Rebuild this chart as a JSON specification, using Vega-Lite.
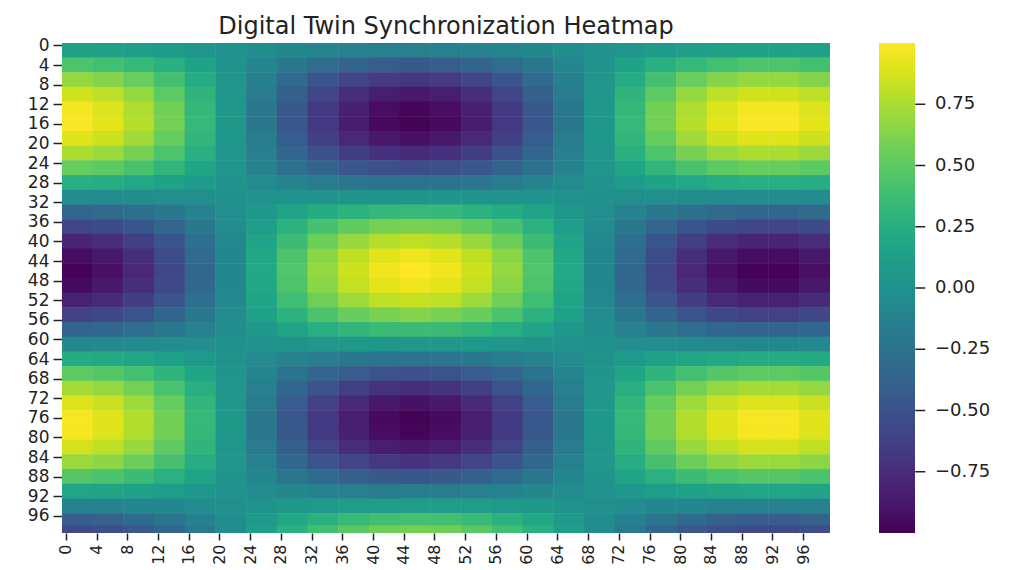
{"$schema":"https://vega.github.io/schema/vega-lite/v6.json","autosize":{"type":"none"},"padding":{"left":62,"top":43,"right":186,"bottom":37},"width":768,"height":490,"background":"white","title":{"text":"Digital Twin Synchronization Heatmap","font":"DejaVu Sans","fontSize":24,"fontWeight":"normal","color":"#222","anchor":"middle","offset":-3},"config":{"view":{"stroke":null},"axis":{"labelOverlap":false}},"resolve":{"scale":{"y":"independent"}},"layer":[{"data":{"values":[
{"x":2,"y":1.5,"v":0.15},{"x":6,"y":1.5,"v":0.14},{"x":10,"y":1.5,"v":0.12},{"x":14,"y":1.5,"v":0.09},{"x":18,"y":1.5,"v":0.05},{"x":22,"y":1.5,"v":0.01},{"x":26,"y":1.5,"v":-0.03},{"x":30,"y":1.5,"v":-0.07},{"x":34,"y":1.5,"v":-0.1},{"x":38,"y":1.5,"v":-0.13},{"x":42,"y":1.5,"v":-0.14},{"x":46,"y":1.5,"v":-0.15},{"x":50,"y":1.5,"v":-0.14},{"x":54,"y":1.5,"v":-0.13},{"x":58,"y":1.5,"v":-0.1},{"x":62,"y":1.5,"v":-0.07},{"x":66,"y":1.5,"v":-0.03},{"x":70,"y":1.5,"v":0.01},{"x":74,"y":1.5,"v":0.05},{"x":78,"y":1.5,"v":0.09},{"x":82,"y":1.5,"v":0.12},{"x":86,"y":1.5,"v":0.14},{"x":90,"y":1.5,"v":0.15},{"x":94,"y":1.5,"v":0.15},{"x":98,"y":1.5,"v":0.14},
{"x":2,"y":4.5,"v":0.44},{"x":6,"y":4.5,"v":0.4},{"x":10,"y":4.5,"v":0.34},{"x":14,"y":4.5,"v":0.26},{"x":18,"y":4.5,"v":0.15},{"x":22,"y":4.5,"v":0.03},{"x":26,"y":4.5,"v":-0.09},{"x":30,"y":4.5,"v":-0.2},{"x":34,"y":4.5,"v":-0.3},{"x":38,"y":4.5,"v":-0.37},{"x":42,"y":4.5,"v":-0.42},{"x":46,"y":4.5,"v":-0.44},{"x":50,"y":4.5,"v":-0.42},{"x":54,"y":4.5,"v":-0.37},{"x":58,"y":4.5,"v":-0.3},{"x":62,"y":4.5,"v":-0.2},{"x":66,"y":4.5,"v":-0.09},{"x":70,"y":4.5,"v":0.03},{"x":74,"y":4.5,"v":0.15},{"x":78,"y":4.5,"v":0.26},{"x":82,"y":4.5,"v":0.34},{"x":86,"y":4.5,"v":0.4},{"x":90,"y":4.5,"v":0.44},{"x":94,"y":4.5,"v":0.44},{"x":98,"y":4.5,"v":0.4},
{"x":2,"y":7.5,"v":0.68},{"x":6,"y":7.5,"v":0.63},{"x":10,"y":7.5,"v":0.54},{"x":14,"y":7.5,"v":0.4},{"x":18,"y":7.5,"v":0.23},{"x":22,"y":7.5,"v":0.05},{"x":26,"y":7.5,"v":-0.14},{"x":30,"y":7.5,"v":-0.32},{"x":34,"y":7.5,"v":-0.47},{"x":38,"y":7.5,"v":-0.59},{"x":42,"y":7.5,"v":-0.66},{"x":46,"y":7.5,"v":-0.69},{"x":50,"y":7.5,"v":-0.66},{"x":54,"y":7.5,"v":-0.59},{"x":58,"y":7.5,"v":-0.47},{"x":62,"y":7.5,"v":-0.32},{"x":66,"y":7.5,"v":-0.14},{"x":70,"y":7.5,"v":0.05},{"x":74,"y":7.5,"v":0.23},{"x":78,"y":7.5,"v":0.4},{"x":82,"y":7.5,"v":0.54},{"x":86,"y":7.5,"v":0.63},{"x":90,"y":7.5,"v":0.68},{"x":94,"y":7.5,"v":0.68},{"x":98,"y":7.5,"v":0.63},
{"x":2,"y":10.5,"v":0.86},{"x":6,"y":10.5,"v":0.8},{"x":10,"y":10.5,"v":0.68},{"x":14,"y":10.5,"v":0.5},{"x":18,"y":10.5,"v":0.3},{"x":22,"y":10.5,"v":0.06},{"x":26,"y":10.5,"v":-0.17},{"x":30,"y":10.5,"v":-0.4},{"x":34,"y":10.5,"v":-0.59},{"x":38,"y":10.5,"v":-0.74},{"x":42,"y":10.5,"v":-0.84},{"x":46,"y":10.5,"v":-0.87},{"x":50,"y":10.5,"v":-0.84},{"x":54,"y":10.5,"v":-0.74},{"x":58,"y":10.5,"v":-0.59},{"x":62,"y":10.5,"v":-0.4},{"x":66,"y":10.5,"v":-0.17},{"x":70,"y":10.5,"v":0.06},{"x":74,"y":10.5,"v":0.3},{"x":78,"y":10.5,"v":0.5},{"x":82,"y":10.5,"v":0.68},{"x":86,"y":10.5,"v":0.8},{"x":90,"y":10.5,"v":0.86},{"x":94,"y":10.5,"v":0.86},{"x":98,"y":10.5,"v":0.8},
{"x":2,"y":13.5,"v":0.97},{"x":6,"y":13.5,"v":0.9},{"x":10,"y":13.5,"v":0.76},{"x":14,"y":13.5,"v":0.57},{"x":18,"y":13.5,"v":0.33},{"x":22,"y":13.5,"v":0.07},{"x":26,"y":13.5,"v":-0.2},{"x":30,"y":13.5,"v":-0.45},{"x":34,"y":13.5,"v":-0.67},{"x":38,"y":13.5,"v":-0.83},{"x":42,"y":13.5,"v":-0.94},{"x":46,"y":13.5,"v":-0.98},{"x":50,"y":13.5,"v":-0.94},{"x":54,"y":13.5,"v":-0.83},{"x":58,"y":13.5,"v":-0.67},{"x":62,"y":13.5,"v":-0.45},{"x":66,"y":13.5,"v":-0.2},{"x":70,"y":13.5,"v":0.07},{"x":74,"y":13.5,"v":0.33},{"x":78,"y":13.5,"v":0.57},{"x":82,"y":13.5,"v":0.76},{"x":86,"y":13.5,"v":0.9},{"x":90,"y":13.5,"v":0.97},{"x":94,"y":13.5,"v":0.97},{"x":98,"y":13.5,"v":0.9},
{"x":2,"y":16.5,"v":0.99},{"x":6,"y":16.5,"v":0.92},{"x":10,"y":16.5,"v":0.78},{"x":14,"y":16.5,"v":0.58},{"x":18,"y":16.5,"v":0.34},{"x":22,"y":16.5,"v":0.07},{"x":26,"y":16.5,"v":-0.2},{"x":30,"y":16.5,"v":-0.46},{"x":34,"y":16.5,"v":-0.68},{"x":38,"y":16.5,"v":-0.85},{"x":42,"y":16.5,"v":-0.96},{"x":46,"y":16.5,"v":-0.99},{"x":50,"y":16.5,"v":-0.96},{"x":54,"y":16.5,"v":-0.85},{"x":58,"y":16.5,"v":-0.68},{"x":62,"y":16.5,"v":-0.46},{"x":66,"y":16.5,"v":-0.2},{"x":70,"y":16.5,"v":0.07},{"x":74,"y":16.5,"v":0.34},{"x":78,"y":16.5,"v":0.58},{"x":82,"y":16.5,"v":0.78},{"x":86,"y":16.5,"v":0.92},{"x":90,"y":16.5,"v":0.99},{"x":94,"y":16.5,"v":0.99},{"x":98,"y":16.5,"v":0.92},
{"x":2,"y":19.5,"v":0.91},{"x":6,"y":19.5,"v":0.85},{"x":10,"y":19.5,"v":0.72},{"x":14,"y":19.5,"v":0.53},{"x":18,"y":19.5,"v":0.31},{"x":22,"y":19.5,"v":0.06},{"x":26,"y":19.5,"v":-0.18},{"x":30,"y":19.5,"v":-0.42},{"x":34,"y":19.5,"v":-0.63},{"x":38,"y":19.5,"v":-0.78},{"x":42,"y":19.5,"v":-0.88},{"x":46,"y":19.5,"v":-0.92},{"x":50,"y":19.5,"v":-0.88},{"x":54,"y":19.5,"v":-0.78},{"x":58,"y":19.5,"v":-0.63},{"x":62,"y":19.5,"v":-0.42},{"x":66,"y":19.5,"v":-0.18},{"x":70,"y":19.5,"v":0.06},{"x":74,"y":19.5,"v":0.31},{"x":78,"y":19.5,"v":0.53},{"x":82,"y":19.5,"v":0.72},{"x":86,"y":19.5,"v":0.85},{"x":90,"y":19.5,"v":0.91},{"x":94,"y":19.5,"v":0.91},{"x":98,"y":19.5,"v":0.85},
{"x":2,"y":22.5,"v":0.75},{"x":6,"y":22.5,"v":0.7},{"x":10,"y":22.5,"v":0.59},{"x":14,"y":22.5,"v":0.44},{"x":18,"y":22.5,"v":0.26},{"x":22,"y":22.5,"v":0.05},{"x":26,"y":22.5,"v":-0.15},{"x":30,"y":22.5,"v":-0.35},{"x":34,"y":22.5,"v":-0.52},{"x":38,"y":22.5,"v":-0.65},{"x":42,"y":22.5,"v":-0.73},{"x":46,"y":22.5,"v":-0.76},{"x":50,"y":22.5,"v":-0.73},{"x":54,"y":22.5,"v":-0.65},{"x":58,"y":22.5,"v":-0.52},{"x":62,"y":22.5,"v":-0.35},{"x":66,"y":22.5,"v":-0.15},{"x":70,"y":22.5,"v":0.05},{"x":74,"y":22.5,"v":0.26},{"x":78,"y":22.5,"v":0.44},{"x":82,"y":22.5,"v":0.59},{"x":86,"y":22.5,"v":0.7},{"x":90,"y":22.5,"v":0.75},{"x":94,"y":22.5,"v":0.75},{"x":98,"y":22.5,"v":0.7},
{"x":2,"y":25.5,"v":0.53},{"x":6,"y":25.5,"v":0.5},{"x":10,"y":25.5,"v":0.42},{"x":14,"y":25.5,"v":0.31},{"x":18,"y":25.5,"v":0.18},{"x":22,"y":25.5,"v":0.04},{"x":26,"y":25.5,"v":-0.11},{"x":30,"y":25.5,"v":-0.25},{"x":34,"y":25.5,"v":-0.37},{"x":38,"y":25.5,"v":-0.46},{"x":42,"y":25.5,"v":-0.52},{"x":46,"y":25.5,"v":-0.54},{"x":50,"y":25.5,"v":-0.52},{"x":54,"y":25.5,"v":-0.46},{"x":58,"y":25.5,"v":-0.37},{"x":62,"y":25.5,"v":-0.25},{"x":66,"y":25.5,"v":-0.11},{"x":70,"y":25.5,"v":0.04},{"x":74,"y":25.5,"v":0.18},{"x":78,"y":25.5,"v":0.31},{"x":82,"y":25.5,"v":0.42},{"x":86,"y":25.5,"v":0.5},{"x":90,"y":25.5,"v":0.53},{"x":94,"y":25.5,"v":0.53},{"x":98,"y":25.5,"v":0.5},
{"x":2,"y":28.5,"v":0.26},{"x":6,"y":28.5,"v":0.24},{"x":10,"y":28.5,"v":0.2},{"x":14,"y":28.5,"v":0.15},{"x":18,"y":28.5,"v":0.09},{"x":22,"y":28.5,"v":0.02},{"x":26,"y":28.5,"v":-0.05},{"x":30,"y":28.5,"v":-0.12},{"x":34,"y":28.5,"v":-0.18},{"x":38,"y":28.5,"v":-0.22},{"x":42,"y":28.5,"v":-0.25},{"x":46,"y":28.5,"v":-0.26},{"x":50,"y":28.5,"v":-0.25},{"x":54,"y":28.5,"v":-0.22},{"x":58,"y":28.5,"v":-0.18},{"x":62,"y":28.5,"v":-0.12},{"x":66,"y":28.5,"v":-0.05},{"x":70,"y":28.5,"v":0.02},{"x":74,"y":28.5,"v":0.09},{"x":78,"y":28.5,"v":0.15},{"x":82,"y":28.5,"v":0.2},{"x":86,"y":28.5,"v":0.24},{"x":90,"y":28.5,"v":0.26},{"x":94,"y":28.5,"v":0.26},{"x":98,"y":28.5,"v":0.24},
{"x":2,"y":31.5,"v":-0.04},{"x":6,"y":31.5,"v":-0.04},{"x":10,"y":31.5,"v":-0.03},{"x":14,"y":31.5,"v":-0.02},{"x":18,"y":31.5,"v":-0.01},{"x":22,"y":31.5,"v":0},{"x":26,"y":31.5,"v":0.01},{"x":30,"y":31.5,"v":0.02},{"x":34,"y":31.5,"v":0.03},{"x":38,"y":31.5,"v":0.03},{"x":42,"y":31.5,"v":0.04},{"x":46,"y":31.5,"v":0.04},{"x":50,"y":31.5,"v":0.04},{"x":54,"y":31.5,"v":0.03},{"x":58,"y":31.5,"v":0.03},{"x":62,"y":31.5,"v":0.02},{"x":66,"y":31.5,"v":0.01},{"x":70,"y":31.5,"v":0},{"x":74,"y":31.5,"v":-0.01},{"x":78,"y":31.5,"v":-0.02},{"x":82,"y":31.5,"v":-0.03},{"x":86,"y":31.5,"v":-0.04},{"x":90,"y":31.5,"v":-0.04},{"x":94,"y":31.5,"v":-0.04},{"x":98,"y":31.5,"v":-0.04},
{"x":2,"y":34.5,"v":-0.34},{"x":6,"y":34.5,"v":-0.31},{"x":10,"y":34.5,"v":-0.27},{"x":14,"y":34.5,"v":-0.2},{"x":18,"y":34.5,"v":-0.12},{"x":22,"y":34.5,"v":-0.02},{"x":26,"y":34.5,"v":0.07},{"x":30,"y":34.5,"v":0.16},{"x":34,"y":34.5,"v":0.23},{"x":38,"y":34.5,"v":0.29},{"x":42,"y":34.5,"v":0.33},{"x":46,"y":34.5,"v":0.34},{"x":50,"y":34.5,"v":0.33},{"x":54,"y":34.5,"v":0.29},{"x":58,"y":34.5,"v":0.23},{"x":62,"y":34.5,"v":0.16},{"x":66,"y":34.5,"v":0.07},{"x":70,"y":34.5,"v":-0.02},{"x":74,"y":34.5,"v":-0.12},{"x":78,"y":34.5,"v":-0.2},{"x":82,"y":34.5,"v":-0.27},{"x":86,"y":34.5,"v":-0.31},{"x":90,"y":34.5,"v":-0.34},{"x":94,"y":34.5,"v":-0.34},{"x":98,"y":34.5,"v":-0.31},
{"x":2,"y":37.5,"v":-0.59},{"x":6,"y":37.5,"v":-0.55},{"x":10,"y":37.5,"v":-0.47},{"x":14,"y":37.5,"v":-0.35},{"x":18,"y":37.5,"v":-0.2},{"x":22,"y":37.5,"v":-0.04},{"x":26,"y":37.5,"v":0.12},{"x":30,"y":37.5,"v":0.28},{"x":34,"y":37.5,"v":0.41},{"x":38,"y":37.5,"v":0.51},{"x":42,"y":37.5,"v":0.58},{"x":46,"y":37.5,"v":0.6},{"x":50,"y":37.5,"v":0.58},{"x":54,"y":37.5,"v":0.51},{"x":58,"y":37.5,"v":0.41},{"x":62,"y":37.5,"v":0.28},{"x":66,"y":37.5,"v":0.12},{"x":70,"y":37.5,"v":-0.04},{"x":74,"y":37.5,"v":-0.2},{"x":78,"y":37.5,"v":-0.35},{"x":82,"y":37.5,"v":-0.47},{"x":86,"y":37.5,"v":-0.55},{"x":90,"y":37.5,"v":-0.59},{"x":94,"y":37.5,"v":-0.59},{"x":98,"y":37.5,"v":-0.55},
{"x":2,"y":40.5,"v":-0.8},{"x":6,"y":40.5,"v":-0.75},{"x":10,"y":40.5,"v":-0.63},{"x":14,"y":40.5,"v":-0.47},{"x":18,"y":40.5,"v":-0.28},{"x":22,"y":40.5,"v":-0.06},{"x":26,"y":40.5,"v":0.16},{"x":30,"y":40.5,"v":0.37},{"x":34,"y":40.5,"v":0.55},{"x":38,"y":40.5,"v":0.69},{"x":42,"y":40.5,"v":0.78},{"x":46,"y":40.5,"v":0.81},{"x":50,"y":40.5,"v":0.78},{"x":54,"y":40.5,"v":0.69},{"x":58,"y":40.5,"v":0.55},{"x":62,"y":40.5,"v":0.37},{"x":66,"y":40.5,"v":0.16},{"x":70,"y":40.5,"v":-0.06},{"x":74,"y":40.5,"v":-0.28},{"x":78,"y":40.5,"v":-0.47},{"x":82,"y":40.5,"v":-0.63},{"x":86,"y":40.5,"v":-0.75},{"x":90,"y":40.5,"v":-0.8},{"x":94,"y":40.5,"v":-0.8},{"x":98,"y":40.5,"v":-0.75},
{"x":2,"y":43.5,"v":-0.94},{"x":6,"y":43.5,"v":-0.87},{"x":10,"y":43.5,"v":-0.74},{"x":14,"y":43.5,"v":-0.55},{"x":18,"y":43.5,"v":-0.32},{"x":22,"y":43.5,"v":-0.07},{"x":26,"y":43.5,"v":0.19},{"x":30,"y":43.5,"v":0.44},{"x":34,"y":43.5,"v":0.65},{"x":38,"y":43.5,"v":0.81},{"x":42,"y":43.5,"v":0.91},{"x":46,"y":43.5,"v":0.95},{"x":50,"y":43.5,"v":0.91},{"x":54,"y":43.5,"v":0.81},{"x":58,"y":43.5,"v":0.65},{"x":62,"y":43.5,"v":0.44},{"x":66,"y":43.5,"v":0.19},{"x":70,"y":43.5,"v":-0.07},{"x":74,"y":43.5,"v":-0.32},{"x":78,"y":43.5,"v":-0.55},{"x":82,"y":43.5,"v":-0.74},{"x":86,"y":43.5,"v":-0.87},{"x":90,"y":43.5,"v":-0.94},{"x":94,"y":43.5,"v":-0.94},{"x":98,"y":43.5,"v":-0.87},
{"x":2,"y":46.5,"v":-0.99},{"x":6,"y":46.5,"v":-0.92},{"x":10,"y":46.5,"v":-0.78},{"x":14,"y":46.5,"v":-0.58},{"x":18,"y":46.5,"v":-0.34},{"x":22,"y":46.5,"v":-0.07},{"x":26,"y":46.5,"v":0.2},{"x":30,"y":46.5,"v":0.46},{"x":34,"y":46.5,"v":0.68},{"x":38,"y":46.5,"v":0.85},{"x":42,"y":46.5,"v":0.96},{"x":46,"y":46.5,"v":1},{"x":50,"y":46.5,"v":0.96},{"x":54,"y":46.5,"v":0.85},{"x":58,"y":46.5,"v":0.68},{"x":62,"y":46.5,"v":0.46},{"x":66,"y":46.5,"v":0.2},{"x":70,"y":46.5,"v":-0.07},{"x":74,"y":46.5,"v":-0.34},{"x":78,"y":46.5,"v":-0.58},{"x":82,"y":46.5,"v":-0.78},{"x":86,"y":46.5,"v":-0.92},{"x":90,"y":46.5,"v":-0.99},{"x":94,"y":46.5,"v":-0.99},{"x":98,"y":46.5,"v":-0.92},
{"x":2,"y":49.5,"v":-0.95},{"x":6,"y":49.5,"v":-0.88},{"x":10,"y":49.5,"v":-0.75},{"x":14,"y":49.5,"v":-0.56},{"x":18,"y":49.5,"v":-0.33},{"x":22,"y":49.5,"v":-0.07},{"x":26,"y":49.5,"v":0.19},{"x":30,"y":49.5,"v":0.44},{"x":34,"y":49.5,"v":0.65},{"x":38,"y":49.5,"v":0.82},{"x":42,"y":49.5,"v":0.92},{"x":46,"y":49.5,"v":0.96},{"x":50,"y":49.5,"v":0.92},{"x":54,"y":49.5,"v":0.82},{"x":58,"y":49.5,"v":0.65},{"x":62,"y":49.5,"v":0.44},{"x":66,"y":49.5,"v":0.19},{"x":70,"y":49.5,"v":-0.07},{"x":74,"y":49.5,"v":-0.33},{"x":78,"y":49.5,"v":-0.56},{"x":82,"y":49.5,"v":-0.75},{"x":86,"y":49.5,"v":-0.88},{"x":90,"y":49.5,"v":-0.95},{"x":94,"y":49.5,"v":-0.95},{"x":98,"y":49.5,"v":-0.88},
{"x":2,"y":52.5,"v":-0.82},{"x":6,"y":52.5,"v":-0.76},{"x":10,"y":52.5,"v":-0.65},{"x":14,"y":52.5,"v":-0.48},{"x":18,"y":52.5,"v":-0.28},{"x":22,"y":52.5,"v":-0.06},{"x":26,"y":52.5,"v":0.17},{"x":30,"y":52.5,"v":0.38},{"x":34,"y":52.5,"v":0.56},{"x":38,"y":52.5,"v":0.71},{"x":42,"y":52.5,"v":0.8},{"x":46,"y":52.5,"v":0.83},{"x":50,"y":52.5,"v":0.8},{"x":54,"y":52.5,"v":0.71},{"x":58,"y":52.5,"v":0.56},{"x":62,"y":52.5,"v":0.38},{"x":66,"y":52.5,"v":0.17},{"x":70,"y":52.5,"v":-0.06},{"x":74,"y":52.5,"v":-0.28},{"x":78,"y":52.5,"v":-0.48},{"x":82,"y":52.5,"v":-0.65},{"x":86,"y":52.5,"v":-0.76},{"x":90,"y":52.5,"v":-0.82},{"x":94,"y":52.5,"v":-0.82},{"x":98,"y":52.5,"v":-0.76},
{"x":2,"y":55.5,"v":-0.62},{"x":6,"y":55.5,"v":-0.58},{"x":10,"y":55.5,"v":-0.49},{"x":14,"y":55.5,"v":-0.37},{"x":18,"y":55.5,"v":-0.21},{"x":22,"y":55.5,"v":-0.04},{"x":26,"y":55.5,"v":0.13},{"x":30,"y":55.5,"v":0.29},{"x":34,"y":55.5,"v":0.43},{"x":38,"y":55.5,"v":0.54},{"x":42,"y":55.5,"v":0.6},{"x":46,"y":55.5,"v":0.63},{"x":50,"y":55.5,"v":0.6},{"x":54,"y":55.5,"v":0.54},{"x":58,"y":55.5,"v":0.43},{"x":62,"y":55.5,"v":0.29},{"x":66,"y":55.5,"v":0.13},{"x":70,"y":55.5,"v":-0.04},{"x":74,"y":55.5,"v":-0.21},{"x":78,"y":55.5,"v":-0.37},{"x":82,"y":55.5,"v":-0.49},{"x":86,"y":55.5,"v":-0.58},{"x":90,"y":55.5,"v":-0.62},{"x":94,"y":55.5,"v":-0.62},{"x":98,"y":55.5,"v":-0.58},
{"x":2,"y":58.5,"v":-0.37},{"x":6,"y":58.5,"v":-0.34},{"x":10,"y":58.5,"v":-0.29},{"x":14,"y":58.5,"v":-0.21},{"x":18,"y":58.5,"v":-0.13},{"x":22,"y":58.5,"v":-0.03},{"x":26,"y":58.5,"v":0.07},{"x":30,"y":58.5,"v":0.17},{"x":34,"y":58.5,"v":0.25},{"x":38,"y":58.5,"v":0.31},{"x":42,"y":58.5,"v":0.36},{"x":46,"y":58.5,"v":0.37},{"x":50,"y":58.5,"v":0.36},{"x":54,"y":58.5,"v":0.31},{"x":58,"y":58.5,"v":0.25},{"x":62,"y":58.5,"v":0.17},{"x":66,"y":58.5,"v":0.07},{"x":70,"y":58.5,"v":-0.03},{"x":74,"y":58.5,"v":-0.13},{"x":78,"y":58.5,"v":-0.21},{"x":82,"y":58.5,"v":-0.29},{"x":86,"y":58.5,"v":-0.34},{"x":90,"y":58.5,"v":-0.37},{"x":94,"y":58.5,"v":-0.37},{"x":98,"y":58.5,"v":-0.34},
{"x":2,"y":61.5,"v":-0.07},{"x":6,"y":61.5,"v":-0.06},{"x":10,"y":61.5,"v":-0.05},{"x":14,"y":61.5,"v":-0.04},{"x":18,"y":61.5,"v":-0.02},{"x":22,"y":61.5,"v":0},{"x":26,"y":61.5,"v":0.01},{"x":30,"y":61.5,"v":0.03},{"x":34,"y":61.5,"v":0.05},{"x":38,"y":61.5,"v":0.06},{"x":42,"y":61.5,"v":0.07},{"x":46,"y":61.5,"v":0.07},{"x":50,"y":61.5,"v":0.07},{"x":54,"y":61.5,"v":0.06},{"x":58,"y":61.5,"v":0.05},{"x":62,"y":61.5,"v":0.03},{"x":66,"y":61.5,"v":0.01},{"x":70,"y":61.5,"v":0},{"x":74,"y":61.5,"v":-0.02},{"x":78,"y":61.5,"v":-0.04},{"x":82,"y":61.5,"v":-0.05},{"x":86,"y":61.5,"v":-0.06},{"x":90,"y":61.5,"v":-0.07},{"x":94,"y":61.5,"v":-0.07},{"x":98,"y":61.5,"v":-0.06},
{"x":2,"y":64.5,"v":0.23},{"x":6,"y":64.5,"v":0.21},{"x":10,"y":64.5,"v":0.18},{"x":14,"y":64.5,"v":0.13},{"x":18,"y":64.5,"v":0.08},{"x":22,"y":64.5,"v":0.02},{"x":26,"y":64.5,"v":-0.05},{"x":30,"y":64.5,"v":-0.11},{"x":34,"y":64.5,"v":-0.16},{"x":38,"y":64.5,"v":-0.2},{"x":42,"y":64.5,"v":-0.22},{"x":46,"y":64.5,"v":-0.23},{"x":50,"y":64.5,"v":-0.22},{"x":54,"y":64.5,"v":-0.2},{"x":58,"y":64.5,"v":-0.16},{"x":62,"y":64.5,"v":-0.11},{"x":66,"y":64.5,"v":-0.05},{"x":70,"y":64.5,"v":0.02},{"x":74,"y":64.5,"v":0.08},{"x":78,"y":64.5,"v":0.13},{"x":82,"y":64.5,"v":0.18},{"x":86,"y":64.5,"v":0.21},{"x":90,"y":64.5,"v":0.23},{"x":94,"y":64.5,"v":0.23},{"x":98,"y":64.5,"v":0.21},
{"x":2,"y":67.5,"v":0.5},{"x":6,"y":67.5,"v":0.47},{"x":10,"y":67.5,"v":0.4},{"x":14,"y":67.5,"v":0.3},{"x":18,"y":67.5,"v":0.17},{"x":22,"y":67.5,"v":0.04},{"x":26,"y":67.5,"v":-0.1},{"x":30,"y":67.5,"v":-0.23},{"x":34,"y":67.5,"v":-0.35},{"x":38,"y":67.5,"v":-0.43},{"x":42,"y":67.5,"v":-0.49},{"x":46,"y":67.5,"v":-0.51},{"x":50,"y":67.5,"v":-0.49},{"x":54,"y":67.5,"v":-0.43},{"x":58,"y":67.5,"v":-0.35},{"x":62,"y":67.5,"v":-0.23},{"x":66,"y":67.5,"v":-0.1},{"x":70,"y":67.5,"v":0.04},{"x":74,"y":67.5,"v":0.17},{"x":78,"y":67.5,"v":0.3},{"x":82,"y":67.5,"v":0.4},{"x":86,"y":67.5,"v":0.47},{"x":90,"y":67.5,"v":0.5},{"x":94,"y":67.5,"v":0.5},{"x":98,"y":67.5,"v":0.47},
{"x":2,"y":70.5,"v":0.73},{"x":6,"y":70.5,"v":0.68},{"x":10,"y":70.5,"v":0.58},{"x":14,"y":70.5,"v":0.43},{"x":18,"y":70.5,"v":0.25},{"x":22,"y":70.5,"v":0.05},{"x":26,"y":70.5,"v":-0.15},{"x":30,"y":70.5,"v":-0.34},{"x":34,"y":70.5,"v":-0.5},{"x":38,"y":70.5,"v":-0.63},{"x":42,"y":70.5,"v":-0.71},{"x":46,"y":70.5,"v":-0.74},{"x":50,"y":70.5,"v":-0.71},{"x":54,"y":70.5,"v":-0.63},{"x":58,"y":70.5,"v":-0.5},{"x":62,"y":70.5,"v":-0.34},{"x":66,"y":70.5,"v":-0.15},{"x":70,"y":70.5,"v":0.05},{"x":74,"y":70.5,"v":0.25},{"x":78,"y":70.5,"v":0.43},{"x":82,"y":70.5,"v":0.58},{"x":86,"y":70.5,"v":0.68},{"x":90,"y":70.5,"v":0.73},{"x":94,"y":70.5,"v":0.73},{"x":98,"y":70.5,"v":0.68},
{"x":2,"y":73.5,"v":0.9},{"x":6,"y":73.5,"v":0.84},{"x":10,"y":73.5,"v":0.71},{"x":14,"y":73.5,"v":0.53},{"x":18,"y":73.5,"v":0.31},{"x":22,"y":73.5,"v":0.06},{"x":26,"y":73.5,"v":-0.18},{"x":30,"y":73.5,"v":-0.42},{"x":34,"y":73.5,"v":-0.62},{"x":38,"y":73.5,"v":-0.77},{"x":42,"y":73.5,"v":-0.87},{"x":46,"y":73.5,"v":-0.91},{"x":50,"y":73.5,"v":-0.87},{"x":54,"y":73.5,"v":-0.77},{"x":58,"y":73.5,"v":-0.62},{"x":62,"y":73.5,"v":-0.42},{"x":66,"y":73.5,"v":-0.18},{"x":70,"y":73.5,"v":0.06},{"x":74,"y":73.5,"v":0.31},{"x":78,"y":73.5,"v":0.53},{"x":82,"y":73.5,"v":0.71},{"x":86,"y":73.5,"v":0.84},{"x":90,"y":73.5,"v":0.9},{"x":94,"y":73.5,"v":0.9},{"x":98,"y":73.5,"v":0.84},
{"x":2,"y":76.5,"v":0.98},{"x":6,"y":76.5,"v":0.91},{"x":10,"y":76.5,"v":0.77},{"x":14,"y":76.5,"v":0.57},{"x":18,"y":76.5,"v":0.34},{"x":22,"y":76.5,"v":0.07},{"x":26,"y":76.5,"v":-0.2},{"x":30,"y":76.5,"v":-0.46},{"x":34,"y":76.5,"v":-0.67},{"x":38,"y":76.5,"v":-0.84},{"x":42,"y":76.5,"v":-0.95},{"x":46,"y":76.5,"v":-0.99},{"x":50,"y":76.5,"v":-0.95},{"x":54,"y":76.5,"v":-0.84},{"x":58,"y":76.5,"v":-0.67},{"x":62,"y":76.5,"v":-0.46},{"x":66,"y":76.5,"v":-0.2},{"x":70,"y":76.5,"v":0.07},{"x":74,"y":76.5,"v":0.34},{"x":78,"y":76.5,"v":0.57},{"x":82,"y":76.5,"v":0.77},{"x":86,"y":76.5,"v":0.91},{"x":90,"y":76.5,"v":0.98},{"x":94,"y":76.5,"v":0.98},{"x":98,"y":76.5,"v":0.91},
{"x":2,"y":79.5,"v":0.97},{"x":6,"y":79.5,"v":0.9},{"x":10,"y":79.5,"v":0.76},{"x":14,"y":79.5,"v":0.57},{"x":18,"y":79.5,"v":0.33},{"x":22,"y":79.5,"v":0.07},{"x":26,"y":79.5,"v":-0.2},{"x":30,"y":79.5,"v":-0.45},{"x":34,"y":79.5,"v":-0.67},{"x":38,"y":79.5,"v":-0.83},{"x":42,"y":79.5,"v":-0.94},{"x":46,"y":79.5,"v":-0.98},{"x":50,"y":79.5,"v":-0.94},{"x":54,"y":79.5,"v":-0.83},{"x":58,"y":79.5,"v":-0.67},{"x":62,"y":79.5,"v":-0.45},{"x":66,"y":79.5,"v":-0.2},{"x":70,"y":79.5,"v":0.07},{"x":74,"y":79.5,"v":0.33},{"x":78,"y":79.5,"v":0.57},{"x":82,"y":79.5,"v":0.76},{"x":86,"y":79.5,"v":0.9},{"x":90,"y":79.5,"v":0.97},{"x":94,"y":79.5,"v":0.97},{"x":98,"y":79.5,"v":0.9},
{"x":2,"y":82.5,"v":0.87},{"x":6,"y":82.5,"v":0.81},{"x":10,"y":82.5,"v":0.69},{"x":14,"y":82.5,"v":0.51},{"x":18,"y":82.5,"v":0.3},{"x":22,"y":82.5,"v":0.06},{"x":26,"y":82.5,"v":-0.18},{"x":30,"y":82.5,"v":-0.4},{"x":34,"y":82.5,"v":-0.6},{"x":38,"y":82.5,"v":-0.75},{"x":42,"y":82.5,"v":-0.84},{"x":46,"y":82.5,"v":-0.88},{"x":50,"y":82.5,"v":-0.84},{"x":54,"y":82.5,"v":-0.75},{"x":58,"y":82.5,"v":-0.6},{"x":62,"y":82.5,"v":-0.4},{"x":66,"y":82.5,"v":-0.18},{"x":70,"y":82.5,"v":0.06},{"x":74,"y":82.5,"v":0.3},{"x":78,"y":82.5,"v":0.51},{"x":82,"y":82.5,"v":0.69},{"x":86,"y":82.5,"v":0.81},{"x":90,"y":82.5,"v":0.87},{"x":94,"y":82.5,"v":0.87},{"x":98,"y":82.5,"v":0.81},
{"x":2,"y":85.5,"v":0.7},{"x":6,"y":85.5,"v":0.65},{"x":10,"y":85.5,"v":0.55},{"x":14,"y":85.5,"v":0.41},{"x":18,"y":85.5,"v":0.24},{"x":22,"y":85.5,"v":0.05},{"x":26,"y":85.5,"v":-0.14},{"x":30,"y":85.5,"v":-0.33},{"x":34,"y":85.5,"v":-0.48},{"x":38,"y":85.5,"v":-0.6},{"x":42,"y":85.5,"v":-0.68},{"x":46,"y":85.5,"v":-0.71},{"x":50,"y":85.5,"v":-0.68},{"x":54,"y":85.5,"v":-0.6},{"x":58,"y":85.5,"v":-0.48},{"x":62,"y":85.5,"v":-0.33},{"x":66,"y":85.5,"v":-0.14},{"x":70,"y":85.5,"v":0.05},{"x":74,"y":85.5,"v":0.24},{"x":78,"y":85.5,"v":0.41},{"x":82,"y":85.5,"v":0.55},{"x":86,"y":85.5,"v":0.65},{"x":90,"y":85.5,"v":0.7},{"x":94,"y":85.5,"v":0.7},{"x":98,"y":85.5,"v":0.65},
{"x":2,"y":88.5,"v":0.47},{"x":6,"y":88.5,"v":0.43},{"x":10,"y":88.5,"v":0.37},{"x":14,"y":88.5,"v":0.27},{"x":18,"y":88.5,"v":0.16},{"x":22,"y":88.5,"v":0.03},{"x":26,"y":88.5,"v":-0.09},{"x":30,"y":88.5,"v":-0.22},{"x":34,"y":88.5,"v":-0.32},{"x":38,"y":88.5,"v":-0.4},{"x":42,"y":88.5,"v":-0.45},{"x":46,"y":88.5,"v":-0.47},{"x":50,"y":88.5,"v":-0.45},{"x":54,"y":88.5,"v":-0.4},{"x":58,"y":88.5,"v":-0.32},{"x":62,"y":88.5,"v":-0.22},{"x":66,"y":88.5,"v":-0.09},{"x":70,"y":88.5,"v":0.03},{"x":74,"y":88.5,"v":0.16},{"x":78,"y":88.5,"v":0.27},{"x":82,"y":88.5,"v":0.37},{"x":86,"y":88.5,"v":0.43},{"x":90,"y":88.5,"v":0.47},{"x":94,"y":88.5,"v":0.47},{"x":98,"y":88.5,"v":0.43},
{"x":2,"y":91.5,"v":0.18},{"x":6,"y":91.5,"v":0.17},{"x":10,"y":91.5,"v":0.14},{"x":14,"y":91.5,"v":0.1},{"x":18,"y":91.5,"v":0.06},{"x":22,"y":91.5,"v":0.01},{"x":26,"y":91.5,"v":-0.04},{"x":30,"y":91.5,"v":-0.08},{"x":34,"y":91.5,"v":-0.12},{"x":38,"y":91.5,"v":-0.15},{"x":42,"y":91.5,"v":-0.17},{"x":46,"y":91.5,"v":-0.18},{"x":50,"y":91.5,"v":-0.17},{"x":54,"y":91.5,"v":-0.15},{"x":58,"y":91.5,"v":-0.12},{"x":62,"y":91.5,"v":-0.08},{"x":66,"y":91.5,"v":-0.04},{"x":70,"y":91.5,"v":0.01},{"x":74,"y":91.5,"v":0.06},{"x":78,"y":91.5,"v":0.1},{"x":82,"y":91.5,"v":0.14},{"x":86,"y":91.5,"v":0.17},{"x":90,"y":91.5,"v":0.18},{"x":94,"y":91.5,"v":0.18},{"x":98,"y":91.5,"v":0.17},
{"x":2,"y":94.5,"v":-0.12},{"x":6,"y":94.5,"v":-0.11},{"x":10,"y":94.5,"v":-0.09},{"x":14,"y":94.5,"v":-0.07},{"x":18,"y":94.5,"v":-0.04},{"x":22,"y":94.5,"v":-0.01},{"x":26,"y":94.5,"v":0.02},{"x":30,"y":94.5,"v":0.06},{"x":34,"y":94.5,"v":0.08},{"x":38,"y":94.5,"v":0.1},{"x":42,"y":94.5,"v":0.12},{"x":46,"y":94.5,"v":0.12},{"x":50,"y":94.5,"v":0.12},{"x":54,"y":94.5,"v":0.1},{"x":58,"y":94.5,"v":0.08},{"x":62,"y":94.5,"v":0.06},{"x":66,"y":94.5,"v":0.02},{"x":70,"y":94.5,"v":-0.01},{"x":74,"y":94.5,"v":-0.04},{"x":78,"y":94.5,"v":-0.07},{"x":82,"y":94.5,"v":-0.09},{"x":86,"y":94.5,"v":-0.11},{"x":90,"y":94.5,"v":-0.12},{"x":94,"y":94.5,"v":-0.12},{"x":98,"y":94.5,"v":-0.11},
{"x":2,"y":97.5,"v":-0.41},{"x":6,"y":97.5,"v":-0.38},{"x":10,"y":97.5,"v":-0.32},{"x":14,"y":97.5,"v":-0.24},{"x":18,"y":97.5,"v":-0.14},{"x":22,"y":97.5,"v":-0.03},{"x":26,"y":97.5,"v":0.08},{"x":30,"y":97.5,"v":0.19},{"x":34,"y":97.5,"v":0.28},{"x":38,"y":97.5,"v":0.35},{"x":42,"y":97.5,"v":0.39},{"x":46,"y":97.5,"v":0.41},{"x":50,"y":97.5,"v":0.39},{"x":54,"y":97.5,"v":0.35},{"x":58,"y":97.5,"v":0.28},{"x":62,"y":97.5,"v":0.19},{"x":66,"y":97.5,"v":0.08},{"x":70,"y":97.5,"v":-0.03},{"x":74,"y":97.5,"v":-0.14},{"x":78,"y":97.5,"v":-0.24},{"x":82,"y":97.5,"v":-0.32},{"x":86,"y":97.5,"v":-0.38},{"x":90,"y":97.5,"v":-0.41},{"x":94,"y":97.5,"v":-0.41},{"x":98,"y":97.5,"v":-0.38},
{"x":2,"y":100,"v":-0.57},{"x":6,"y":100,"v":-0.53},{"x":10,"y":100,"v":-0.45},{"x":14,"y":100,"v":-0.34},{"x":18,"y":100,"v":-0.2},{"x":22,"y":100,"v":-0.04},{"x":26,"y":100,"v":0.12},{"x":30,"y":100,"v":0.27},{"x":34,"y":100,"v":0.39},{"x":38,"y":100,"v":0.49},{"x":42,"y":100,"v":0.56},{"x":46,"y":100,"v":0.58},{"x":50,"y":100,"v":0.56},{"x":54,"y":100,"v":0.49},{"x":58,"y":100,"v":0.39},{"x":62,"y":100,"v":0.27},{"x":66,"y":100,"v":0.12},{"x":70,"y":100,"v":-0.04},{"x":74,"y":100,"v":-0.2},{"x":78,"y":100,"v":-0.34},{"x":82,"y":100,"v":-0.45},{"x":86,"y":100,"v":-0.53},{"x":90,"y":100,"v":-0.57},{"x":94,"y":100,"v":-0.57},{"x":98,"y":100,"v":-0.53}
]},"mark":{"type":"rect","width":31.2,"height":15.2,"clip":true},"encoding":{"x":{"field":"x","type":"quantitative","scale":{"domain":[0,100],"nice":false,"zero":false},"axis":{"title":null,"grid":false,"domain":false,"values":[0.5,4.5,8.5,12.5,16.5,20.5,24.5,28.5,32.5,36.5,40.5,44.5,48.5,52.5,56.5,60.5,64.5,68.5,72.5,76.5,80.5,84.5,88.5,92.5,96.5],"labelExpr":"floor(datum.value)","labelAngle":-90,"labelAlign":"right","labelBaseline":"middle","labelFont":"DejaVu Sans","labelFontSize":16,"labelColor":"#222","labelOverlap":false,"labelBound":false,"labelFlush":false,"tickColor":"#222","tickSize":7,"tickWidth":1.5,"labelPadding":4}},"y":{"field":"y","type":"quantitative","scale":{"domain":[100,0],"nice":false,"zero":false},"axis":{"title":null,"grid":false,"domain":false,"values":[0.5,4.5,8.5,12.5,16.5,20.5,24.5,28.5,32.5,36.5,40.5,44.5,48.5,52.5,56.5,60.5,64.5,68.5,72.5,76.5,80.5,84.5,88.5,92.5,96.5],"labelExpr":"floor(datum.value)","labelAngle":0,"labelFont":"DejaVu Sans","labelFontSize":17,"labelColor":"#222","labelOverlap":false,"labelBound":false,"labelFlush":false,"tickColor":"#222","tickSize":9,"tickWidth":1.5,"labelPadding":4}},"color":{"field":"v","type":"quantitative","scale":{"scheme":"viridis","domain":[-1,1]},"legend":{"title":null,"orient":"none","legendX":817,"legendY":0,"gradientLength":490,"gradientThickness":36,"gradientStrokeWidth":0,"values":[-0.75,-0.5,-0.25,0,0.25,0.5,0.75],"format":".2f","labelFont":"DejaVu Sans","labelFontSize":18,"labelColor":"#222","labelOffset":20}}}},{"data":{"values":[{"t":-0.75},{"t":-0.5},{"t":-0.25},{"t":0},{"t":0.25},{"t":0.5},{"t":0.75}]},"mark":{"type":"rule","color":"#222","strokeWidth":1.5},"encoding":{"x":{"datum":111.1,"type":"quantitative","scale":{"domain":[0,100],"nice":false,"zero":false},"axis":{"title":null,"grid":false,"domain":false,"values":[0.5,4.5,8.5,12.5,16.5,20.5,24.5,28.5,32.5,36.5,40.5,44.5,48.5,52.5,56.5,60.5,64.5,68.5,72.5,76.5,80.5,84.5,88.5,92.5,96.5],"labelExpr":"floor(datum.value)","labelAngle":-90,"labelAlign":"right","labelBaseline":"middle","labelFont":"DejaVu Sans","labelFontSize":16,"labelColor":"#222","labelOverlap":false,"labelBound":false,"labelFlush":false,"tickColor":"#222","tickSize":7,"tickWidth":1.5,"labelPadding":4}},"x2":{"datum":112.4},"y":{"field":"t","type":"quantitative","scale":{"domain":[-1,1],"nice":false,"zero":false},"axis":null}}}]}
